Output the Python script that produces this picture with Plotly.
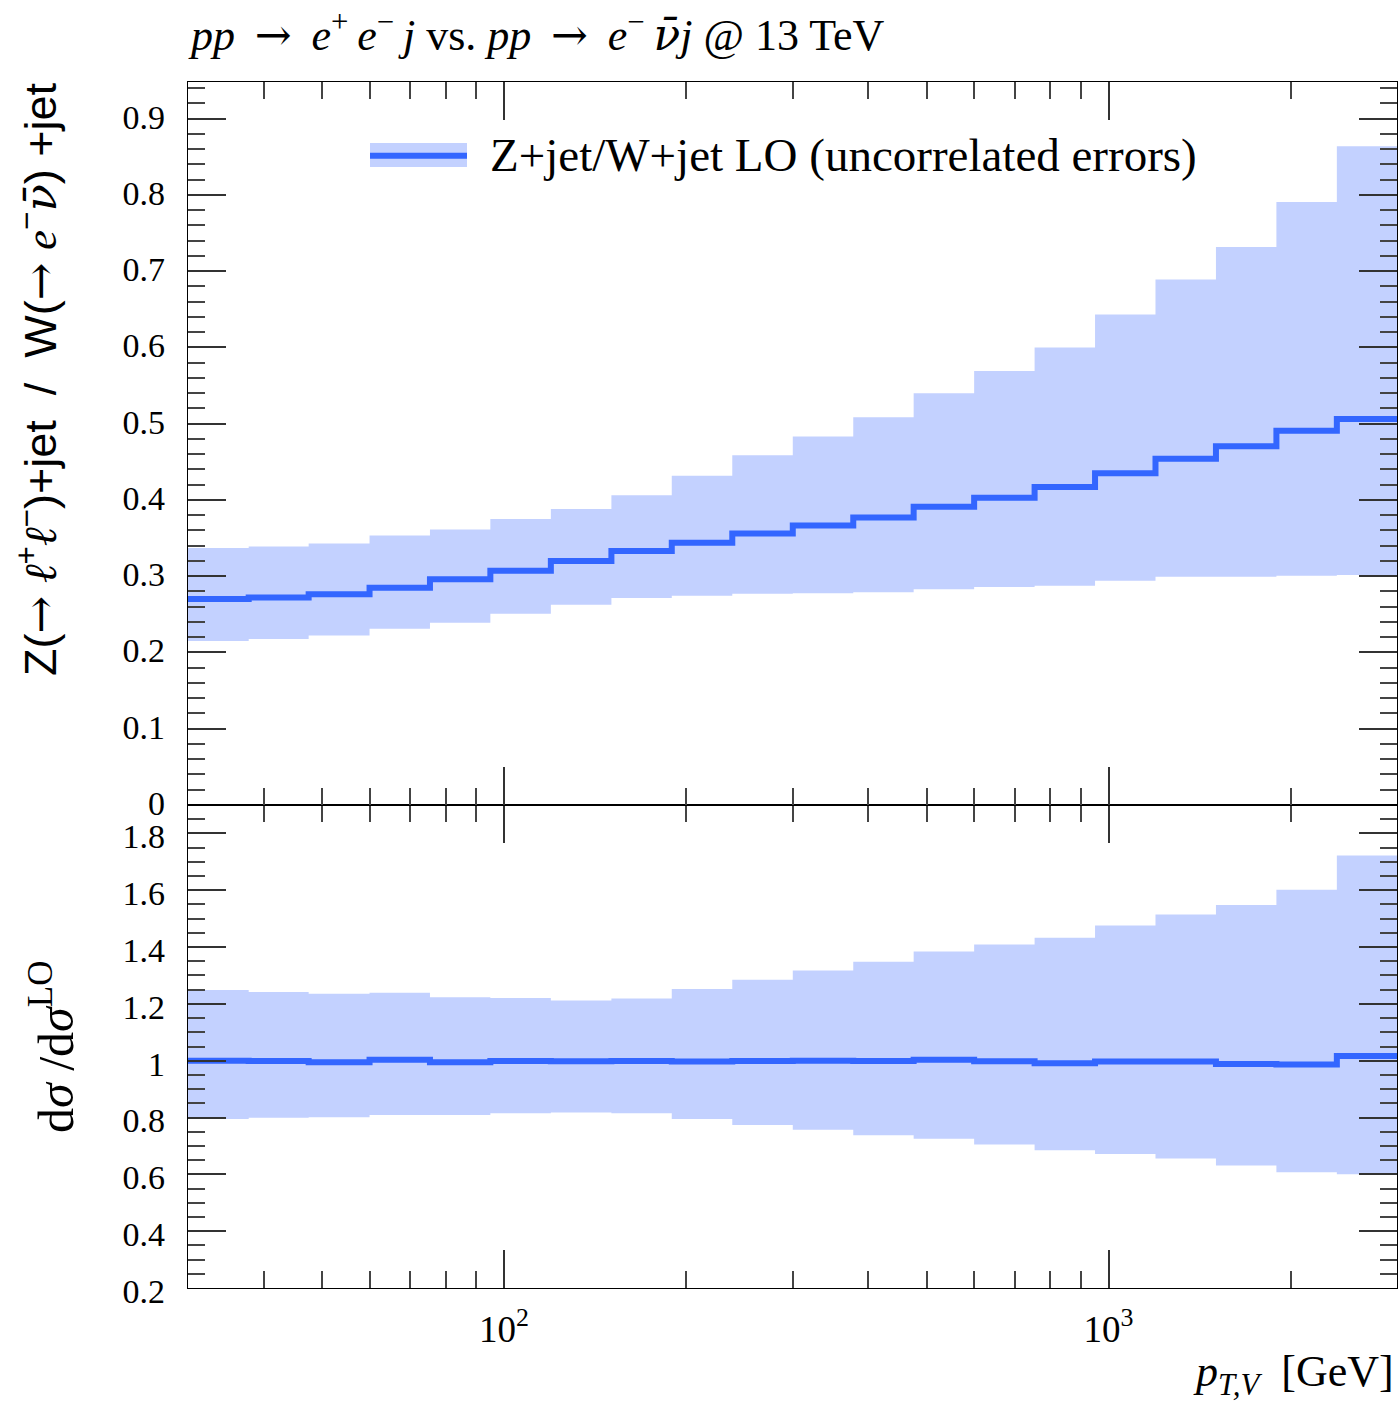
import plotly.graph_objects as go

# ---------------- data ----------------
bin_edges = [30, 37.8, 47.5, 59.9, 75.4, 94.9, 119.5, 150.5, 189.4, 238.5, 300.3,
             378.1, 475.9, 599.2, 754.4, 949.7, 1195.6, 1505.2, 1895.0, 2385.6, 3000]

ratio_central = [0.270, 0.272, 0.2765, 0.285, 0.296, 0.307, 0.320, 0.333, 0.344, 0.356,
                 0.3666, 0.377, 0.391, 0.403, 0.417, 0.435, 0.454, 0.4705, 0.4906, 0.506]
ratio_upper = [0.337, 0.339, 0.343, 0.3534, 0.3613, 0.375, 0.388, 0.406, 0.4316, 0.4587,
               0.4832, 0.5085, 0.540, 0.569, 0.600, 0.643, 0.689, 0.7317, 0.7907, 0.8637]
ratio_lower = [0.215, 0.2176, 0.2224, 0.231, 0.239, 0.2507, 0.2625, 0.2715, 0.2743, 0.277,
               0.2778, 0.279, 0.283, 0.286, 0.2875, 0.294, 0.2993, 0.2993, 0.3005, 0.3015]

rel_central = [1.000, 0.999, 0.995, 1.003, 0.995, 0.999, 0.998, 0.999, 0.997, 0.999,
               1.000, 0.999, 1.003, 0.998, 0.991, 0.997, 0.997, 0.988, 0.987, 1.0165]
rel_upper = [1.249, 1.242, 1.236, 1.239, 1.2235, 1.221, 1.2116, 1.219, 1.252, 1.285,
             1.3175, 1.348, 1.3845, 1.409, 1.433, 1.476, 1.515, 1.548, 1.602, 1.722]
rel_lower = [0.795, 0.799, 0.801, 0.8085, 0.8085, 0.8155, 0.818, 0.8155, 0.7944, 0.774,
             0.7566, 0.738, 0.725, 0.705, 0.685, 0.672, 0.656, 0.631, 0.6075, 0.600]

x_major_ticks = [100, 1000]
x_major_labels = ["10<sup>2</sup>", "10<sup>3</sup>"]
x_minor_ticks = [40, 50, 60, 70, 80, 90, 200, 300, 400, 500, 600, 700, 800, 900, 2000, 3000]

ARW = '<span style="font-family:DejaVu Serif">→</span>'
NUBAR = '<span style="font-family:DejaVu Serif"><i>ν̄</i></span>'
SP = "\u2009"
title_text = ("<i>pp</i>" + SP + " " + ARW + " " + SP + "<i>e</i><sup>+</sup>" + SP
              + "<i>e</i><sup>−</sup>" + SP + "<i>j</i> vs. "
              "<i>pp</i>" + SP + " " + ARW + " " + SP + "<i>e</i><sup>−</sup>" + SP
              + NUBAR + "<i>j</i> @ 13 TeV")
legend_label = "Z+jet/W+jet LO (uncorrelated errors)"
ylabel_main = ("Z(" + ARW + " <span style=\"font-family:DejaVu Serif\"><i>ℓ</i></span><sup>+</sup>"
               "<span style=\"font-family:DejaVu Serif\"><i>ℓ</i></span><sup>−</sup>)+jet \u00a0/\u00a0 "
               "W(" + ARW + " <span style=\"font-family:Liberation Serif\"><i>e</i></span><sup>−</sup>"
               + NUBAR + ") +jet")
ylabel_ratio = "d<i>σ</i> /d<i>σ</i><sup>LO</sup>"
xlabel = "<i>p</i><sub><i>T,V</i></sub>  [GeV]"

# ---------------- style ----------------
LINE = "#3366FF"
BAND = "#C3D1FF"
SERIF = "Liberation Serif"
SANS = "Liberation Sans"
W, H = 1400, 1401
ML, MR, MT, MB = 188, 3, 82, 113
PW = W - ML - MR
PH = H - MT - MB
split = (1288 - 805) / PH


def ext(v):
    return list(v) + [v[-1]]


fig = go.Figure()

for xa, ya, up, lo, c in [("x2", "y2", ratio_upper, ratio_lower, ratio_central),
                          ("x", "y", rel_upper, rel_lower, rel_central)]:
    fig.add_trace(go.Scatter(x=bin_edges, y=ext(lo), xaxis=xa, yaxis=ya, mode="lines",
                             line=dict(shape="hv", width=0, color=BAND),
                             showlegend=False, hoverinfo="skip"))
    fig.add_trace(go.Scatter(x=bin_edges, y=ext(up), xaxis=xa, yaxis=ya, mode="lines",
                             line=dict(shape="hv", width=0, color=BAND),
                             fill="tonexty", fillcolor=BAND,
                             showlegend=False, hoverinfo="skip"))
    fig.add_trace(go.Scatter(x=bin_edges, y=ext(c), xaxis=xa, yaxis=ya, mode="lines",
                             line=dict(shape="hv", width=6, color=LINE),
                             showlegend=False))

tickfont = dict(family=SERIF, size=34, color="black")
common_x = dict(type="log", range=[1.4771, 3.4771], ticks="inside", ticklen=38,
                tickwidth=1.5, tickcolor="#333", showline=True, linecolor="black",
                linewidth=1.3, mirror="ticks", showgrid=False, zeroline=False,
                tickmode="array", tickvals=x_major_ticks, ticktext=x_major_labels,
                minor=dict(tickmode="array", tickvals=x_minor_ticks, ticks="inside",
                           ticklen=17, tickwidth=1.5, tickcolor="#444", showgrid=False),
                tickfont=dict(family=SERIF, size=37, color="black"))

fig.update_layout(
    width=W, height=H,
    margin=dict(l=ML, r=MR, t=MT, b=MB),
    plot_bgcolor="white", paper_bgcolor="white",
    showlegend=False,
    xaxis=dict(common_x, domain=[0, 1], anchor="y", ticklabelstandoff=8),
    xaxis2=dict(common_x, domain=[0, 1], anchor="y2", matches="x", showticklabels=False),
    yaxis=dict(domain=[0, split], anchor="x", range=[0.2, 1.9], dtick=0.2, tick0=0,
               ticks="inside", ticklen=38, tickwidth=1.5, tickcolor="#333",
               showline=True, linecolor="black", linewidth=1.3, mirror="ticks",
               showgrid=False, zeroline=False, tickfont=tickfont, ticklabelstandoff=15,
               ticklabelshift=3,
               minor=dict(dtick=0.05, tick0=0, ticks="inside", ticklen=17, tickwidth=1.5,
                          tickcolor="#444", showgrid=False)),
    yaxis2=dict(domain=[split, 1], anchor="x2", range=[0, 0.948], dtick=0.1, tick0=0,
                ticks="inside", ticklen=38, tickwidth=1.5, tickcolor="#333",
                showline=True, linecolor="black", linewidth=1.3, mirror="ticks",
                showgrid=False, zeroline=False, tickfont=tickfont, ticklabelstandoff=15,
                ticklabelshift=-2,
                minor=dict(dtick=0.02, tick0=0, ticks="inside", ticklen=17, tickwidth=1.5,
                           tickcolor="#444", showgrid=False)),
)


def px_x(p):
    return (p - ML) / PW


def px_y(p):
    return (MT + PH - p) / PH


# legend (drawn by hand to match the wide sample)
fig.add_shape(type="rect", xref="paper", yref="paper",
              x0=px_x(370), x1=px_x(467), y0=px_y(167), y1=px_y(143),
              fillcolor=BAND, line=dict(width=0))
fig.add_shape(type="line", xref="paper", yref="paper",
              x0=px_x(370), x1=px_x(467), y0=px_y(155.7), y1=px_y(155.7),
              line=dict(color=LINE, width=6))
fig.add_annotation(xref="paper", yref="paper", x=px_x(488), y=px_y(155),
                   xanchor="left", yanchor="middle", showarrow=False,
                   text=legend_label, font=dict(family=SERIF, size=47, color="black"))

fig.add_annotation(xref="paper", yref="paper", x=px_x(186), y=px_y(32),
                   xanchor="left", yanchor="middle", showarrow=False,
                   text=title_text, font=dict(family=SERIF, size=44, color="black"))

fig.add_annotation(xref="paper", yref="paper", x=px_x(1396), y=px_y(1374),
                   xanchor="right", yanchor="middle", showarrow=False,
                   text=xlabel, font=dict(family=SERIF, size=44, color="black"))

fig.add_annotation(xref="paper", yref="paper", x=px_x(38), y=px_y(80),
                   xanchor="center", yanchor="top", textangle=-90, showarrow=False,
                   text=ylabel_main, font=dict(family=SANS, size=45, color="black"))

fig.add_annotation(xref="paper", yref="paper", x=px_x(52), y=px_y(1047),
                   xanchor="center", yanchor="middle", textangle=-90, showarrow=False,
                   text=ylabel_ratio, font=dict(family=SERIF, size=50, color="black"))

fig.write_html("out.html")
